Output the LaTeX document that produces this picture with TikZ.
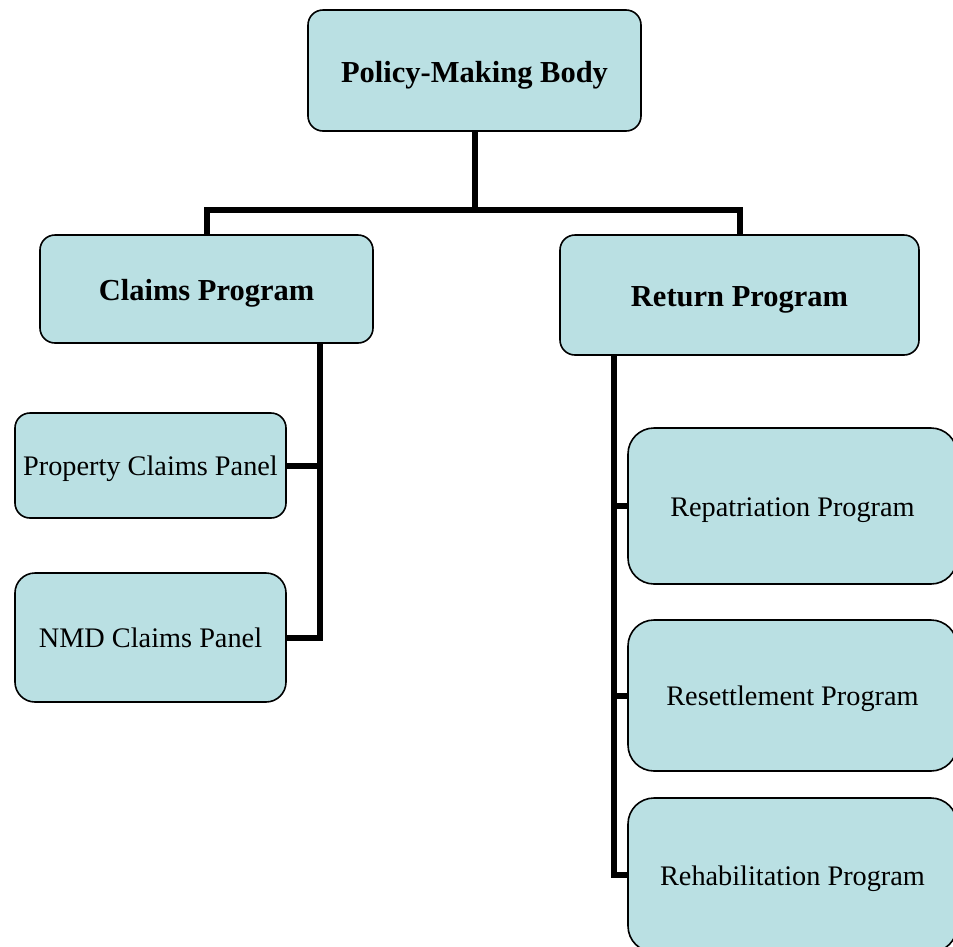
\documentclass[tikz,border=0pt]{standalone}
\usepackage{fontspec}
\setmainfont{Liberation Serif}
\definecolor{boxfill}{RGB}{186,224,227}
\begin{document}
\begin{tikzpicture}[x=1pt,y=-1pt,
  box/.style={draw=black, line width=1.6pt, fill=boxfill, rounded corners=#1, inner sep=0pt, align=center},
  box/.default=15pt,
  bigtext/.style={font=\fontsize{30.5}{34}\selectfont\bfseries, text height=24pt, text depth=1pt},
  smalltext/.style={font=\fontsize{28.3}{32}\selectfont, text height=22pt, text depth=2pt},
  conn/.style={line width=6pt, draw=black}]
\path[use as bounding box, clip] (0,0) rectangle (953,946);
\fill[white] (0,0) rectangle (953,946);

\node[box, bigtext, minimum width=333pt, minimum height=121pt] (top) at (474.5,70.5) {Policy-Making Body};
\node[box, bigtext, minimum width=333pt, minimum height=108pt] (claims) at (206.5,289) {Claims Program};
\node[box, bigtext, minimum width=359pt, minimum height=120pt] (return) at (739.5,295) {Return Program};

\node[box, smalltext, minimum width=271pt, minimum height=105pt] (prop) at (150.5,465.5) {Property Claims Panel};
\node[box=20pt, smalltext, minimum width=271pt, minimum height=129pt] (nmd) at (150.5,637.5) {NMD Claims Panel};

\node[box=26pt, smalltext, minimum width=329pt, minimum height=156pt] (repat) at (792.5,506) {Repatriation Program};
\node[box=26pt, smalltext, minimum width=329pt, minimum height=151pt] (resettle) at (792.5,695.5) {Resettlement Program};
\node[box=26pt, smalltext, minimum width=329pt, minimum height=154pt] (rehab) at (792.5,875) {Rehabilitation Program};

\coordinate (bus) at (474.5,210);
\coordinate (cx) at (320,0);
\coordinate (rx) at (614,0);

\draw[conn] (top.south) -- (bus);
\draw[conn] (claims.north) |- (bus) -| (return.north);

\draw[conn] (cx |- claims.south) |- (nmd.east);
\draw[conn] (cx |- prop.east) -- (prop.east);

\draw[conn] (rx |- return.south) |- (rehab.west);
\draw[conn] (rx |- repat.west) -- (repat.west);
\draw[conn] (rx |- resettle.west) -- (resettle.west);
\end{tikzpicture}
\end{document}
